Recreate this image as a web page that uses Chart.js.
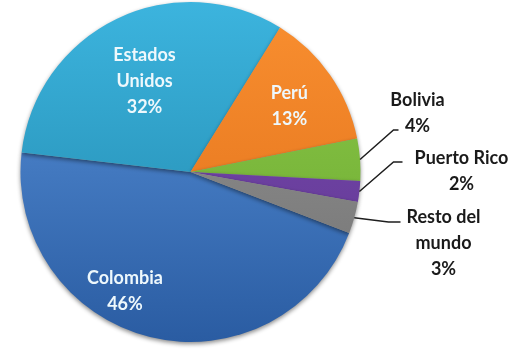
<!DOCTYPE html>
<html>
<head>
<meta charset="utf-8">
<script src="https://cdn.jsdelivr.net/npm/chart.js@4.4.1/dist/chart.umd.min.js"></script>
<style>
  html, body { margin: 0; padding: 0; background: #fff; }
  #wrap { width: 512px; height: 351px; }
</style>
</head>
<body>
<div id="wrap"><canvas id="pie" width="512" height="351"></canvas></div>
<script>
// data
const countries = ['Colombia', 'Estados Unidos', 'Perú', 'Bolivia', 'Puerto Rico', 'Resto del mundo'];
const shares = [46, 32, 13, 4, 2, 3];
const labelLines = [
  ['Colombia', '46%'],
  ['Estados', 'Unidos', '32%'],
  ['Perú', '13%'],
  ['Bolivia', '4%'],
  ['Puerto Rico', '2%'],
  ['Resto del', 'mundo', '3%'],
];

// colours: [top, bottom] of the vertical shading
const shades = [
  ['#5a94dc', '#2a5ca2'],
  ['#3cb4de', '#1f84a8'],
  ['#f98f30', '#df6e18'],
  ['#8cc84a', '#6aa82e'],
  ['#7a4cb0', '#5e3590'],
  ['#959595', '#727272'],
];

// label placement (inside: angle shift in deg + radius fraction; outside: offsets from centre)
const inside = {
  0: { shift: 15, frac: 0.8 },
  1: { shift: -1, frac: 0.6 },
  2: { shift: 1, frac: 0.7 },
};
const outside = {
  3: { elbow: [203, -42], tail: [208, -42], text: [227, -72] },
  4: { elbow: [203, -10], tail: [212, -10], text: [271, -14] },
  5: { elbow: [198, 50], tail: [210, 50], text: [253, 45] },
};
const LINE_H = 26;
const FONT = 'bold 18px Lato, "Open Sans", sans-serif';

function shade(c) {
  const chart = c.chart;
  const area = chart.chartArea;
  const pair = shades[c.dataIndex];
  if (!area) return pair[0];
  const g = chart.ctx.createLinearGradient(0, area.top, 0, area.bottom);
  g.addColorStop(0, pair[0]);
  g.addColorStop(1, pair[1]);
  return g;
}

const shadowPlugin = {
  id: 'shadow',
  beforeDatasetsDraw(chart) {
    const ctx = chart.ctx;
    ctx.save();
    ctx.shadowColor = 'rgba(0,0,0,0.45)';
    ctx.shadowBlur = 4;
    ctx.shadowOffsetY = 2;
  },
  afterDatasetsDraw(chart) {
    chart.ctx.restore();
  }
};

const labelPlugin = {
  id: 'sliceLabels',
  afterDraw(chart) {
    const ctx = chart.ctx;
    const meta = chart.getDatasetMeta(0);
    ctx.save();
    ctx.font = FONT;
    ctx.textAlign = 'center';
    ctx.textBaseline = 'middle';
    meta.data.forEach((arc, i) => {
      const lines = labelLines[i];
      const mid = (arc.startAngle + arc.endAngle) / 2;
      if (inside[i]) {
        const a = mid + inside[i].shift * Math.PI / 180;
        const r = arc.outerRadius * inside[i].frac;
        const x = arc.x + Math.cos(a) * r;
        const y = arc.y + Math.sin(a) * r;
        ctx.fillStyle = '#eef8fc';
        lines.forEach((t, k) => {
          ctx.fillText(t, x, y + (k - (lines.length - 1) / 2) * LINE_H);
        });
      } else {
        const o = outside[i];
        const sx = arc.x + Math.cos(mid) * arc.outerRadius;
        const sy = arc.y + Math.sin(mid) * arc.outerRadius;
        ctx.strokeStyle = '#1e1e1e';
        ctx.lineWidth = 1.5;
        ctx.beginPath();
        ctx.moveTo(sx, sy);
        ctx.lineTo(arc.x + o.elbow[0], arc.y + o.elbow[1]);
        ctx.lineTo(arc.x + o.tail[0], arc.y + o.tail[1]);
        ctx.stroke();
        ctx.fillStyle = '#1a1a1a';
        lines.forEach((t, k) => {
          ctx.fillText(t, arc.x + o.text[0], arc.y + o.text[1] + k * LINE_H);
        });
      }
    });
    ctx.restore();
  }
};

new Chart(document.getElementById('pie'), {
  type: 'pie',
  data: {
    labels: countries,
    datasets: [{
      data: shares,
      backgroundColor: shade,
      borderWidth: 0,
    }]
  },
  options: {
    responsive: false,
    animation: false,
    rotation: 111,
    layout: { padding: { left: 20, right: 151, top: 2, bottom: 9 } },
    plugins: {
      legend: { display: false },
      tooltip: { enabled: false },
    }
  },
  plugins: [shadowPlugin, labelPlugin]
});
</script>
</body>
</html>
